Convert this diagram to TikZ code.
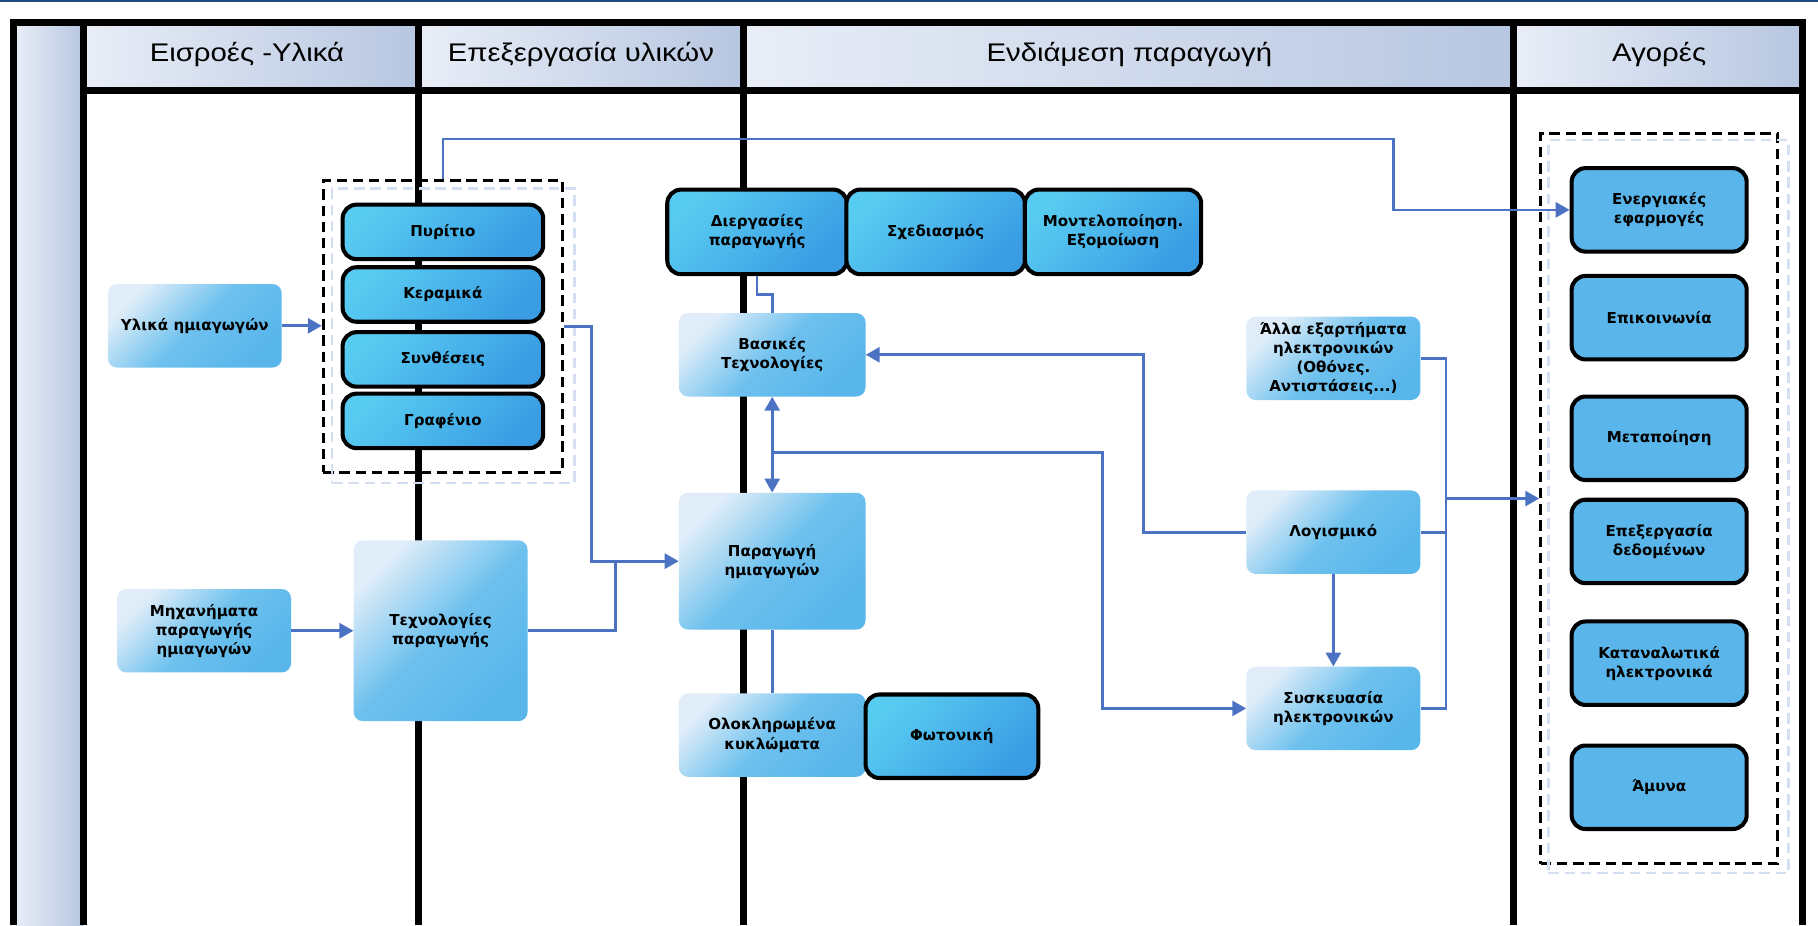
\documentclass[tikz,border=0pt]{standalone}
\usepackage{fontspec}
\setmainfont{DejaVu Sans}
\newfontfamily\headfont[FakeStretch=1.15]{Liberation Sans}
\usepackage{tikz}
\usetikzlibrary{shapes, arrows.meta, positioning, fit, calc}

\definecolor{linkblue}{RGB}{76,114,196}
\definecolor{softtop}{RGB}{224,237,249}
\definecolor{softmid}{RGB}{110,193,238}
\definecolor{softbot}{RGB}{88,182,235}
\definecolor{hardtop}{RGB}{88,203,241}
\definecolor{hardbot}{RGB}{58,157,228}
\definecolor{marketblue}{RGB}{90,182,234}
\definecolor{headlight}{RGB}{233,238,247}
\definecolor{headdark}{RGB}{183,198,225}
\definecolor{ghostblue}{RGB}{212,223,242}
\definecolor{topline}{RGB}{31,73,125}

\begin{document}
\begin{tikzpicture}[x=1pt, y=-1pt, >={Triangle[length=12pt,width=13pt]},
  lane/.style={line width=6pt},
  head/.style={font=\headfont\fontsize{22}{26}\selectfont},
  soft/.style={rounded corners=8pt, align=center, inner sep=0pt,
    minimum width=150pt, minimum height=72pt,
    top color=softtop, bottom color=softbot, middle color=softmid, shading angle=45,
    font=\bfseries\fontsize{13}{16.5}\selectfont},
  hard/.style={draw, line width=3.5pt, rounded corners=12pt, align=center, inner sep=0pt,
    top color=hardtop, bottom color=hardbot, shading angle=45,
    font=\bfseries\fontsize{13}{16.5}\selectfont},
  market/.style={draw, line width=3.5pt, rounded corners=12pt, align=center, inner sep=0pt,
    fill=marketblue, minimum width=151pt, minimum height=72pt,
    font=\bfseries\fontsize{13}{16.5}\selectfont},
  group/.style={draw, line width=2.5pt, dash pattern=on 9pt off 5pt, inner sep=0pt},
  ghost/.style={draw=ghostblue, line width=2pt, dash pattern=on 9pt off 5pt, inner sep=0pt},
  link/.style={draw=linkblue, line width=2.3pt}]

  \useasboundingbox (0,0) rectangle (1568,798);
  \draw[topline, line width=2pt] (0,1) -- (1568,1);

  \shade[left color=headlight, right color=headdark] (12,19) rectangle (72,798);
  \shade[left color=headlight, right color=headdark] (72,19) rectangle (361,78);
  \shade[left color=headlight, right color=headdark] (361,19) rectangle (641,78);
  \shade[left color=headlight, right color=headdark] (641,19) rectangle (1305,78);
  \shade[left color=headlight, right color=headdark] (1305,19) rectangle (1555,78);

  \node[head] (h1) at (213,47) {Εισροές -Υλικά};
  \node[head] (h2) at (501,47) {Επεξεργασία υλικών};
  \node[head] (h3) at (974,47) {Ενδιάμεση παραγωγή};
  \node[head] (h4) at (1431,47) {Αγορές};

  \draw[lane] (12,798) -- (12,19) -- (1555,19) -- (1555,798);
  \draw[lane] (72,78) -- (1555,78);
  \foreach \x in {72,361,641,1305}
    \draw[lane] (\x,19) -- (\x,798);

  \node[soft] (ylika) at (168,281) {Υλικά ημιαγωγών};
  \node[soft] (mixan) at (176,544) {Μηχανήματα\\παραγωγής\\ημιαγωγών};
  \node[soft, minimum height=156pt] (texnol) at (380,544) {Τεχνολογίες\\παραγωγής};

  \node[hard, minimum width=173pt, minimum height=47pt] (pyritio) at (382,200) {Πυρίτιο};
  \node[hard, minimum width=173pt, minimum height=47pt] (keramika) at (382,254) {Κεραμικά};
  \node[hard, minimum width=173pt, minimum height=47pt] (synth) at (382,310) {Συνθέσεις};
  \node[hard, minimum width=173pt, minimum height=47pt] (grafen) at (382,363) {Γραφένιο};
  \node[group, fit=(pyritio)(grafen), inner xsep=15pt, inner ysep=19pt] (matgrp) {};
  \node[ghost, fit=(matgrp), xshift=9pt, yshift=-8pt] (matghost) {};

  \node[hard, minimum width=155pt, minimum height=73pt] (dierg) at (653,200) {Διεργασίες\\παραγωγής};
  \node[hard, minimum width=154pt, minimum height=73pt] (sxed) at (807,200) {Σχεδιασμός};
  \node[hard, minimum width=152pt, minimum height=73pt] (montel) at (960,200) {Μοντελοποίηση.\\Εξομοίωση};

  \node[soft, minimum width=161pt] (vasikes) at (666,306) {Βασικές\\Τεχνολογίες};
  \node[soft, minimum width=161pt, minimum height=118pt] (paragogi) at (666,484) {Παραγωγή\\ημιαγωγών};
  \node[soft, minimum width=161pt] (oloklir) at (666,634) {Ολοκληρωμένα\\κυκλώματα};
  \node[hard, minimum width=149pt, minimum height=72pt] (fotoniki) at (821,635) {Φωτονική};

  \node[soft] (alla) at (1150,309) {Άλλα εξαρτήματα\\ηλεκτρονικών\\(Οθόνες.\\Αντιστάσεις...)};
  \node[soft] (logism) at (1150,459) {Λογισμικό};
  \node[soft] (syskev) at (1150,611) {Συσκευασία\\ηλεκτρονικών};

  \node[market] (ener) at (1431,181) {Ενεργιακές\\εφαρμογές};
  \node[market] (epik) at (1431,274) {Επικοινωνία};
  \node[market] (metap) at (1431,378) {Μεταποίηση};
  \node[market] (dedom) at (1431,467) {Επεξεργασία\\δεδομένων};
  \node[market] (katan) at (1431,572) {Καταναλωτικά\\ηλεκτρονικά};
  \node[market] (amyna) at (1431,679) {Άμυνα};
  \node[group, fit=(ener)(amyna), inner xsep=25pt, inner ysep=28pt] (mktgrp) {};
  \node[ghost, fit=(mktgrp), xshift=8pt, yshift=-7pt] (mktghost) {};

  \coordinate (split) at (666,390);
  \coordinate (bus) at (1247,430);

  \draw[link,->] (ylika) -- (ylika -| matgrp.west);
  \draw[link,->] (matgrp.north) |- (1202,120) |- (ener.west);
  \draw[link,->] (matgrp.east) -| (510,484) -- (paragogi.west);
  \draw[link] (texnol.east) -| (531,484);
  \draw[link,->] (mixan) -- (texnol);
  \draw[link] (dierg.south) |- (666,254) -- (vasikes.north);
  \draw[link,<->] (vasikes) -- (paragogi);
  \draw[link,->] (split) -| (951,611) -- (syskev.west);
  \draw[link,->] (logism.west) -| (986,306) -- (vasikes.east);
  \draw[link,->] (logism) -- (syskev);
  \draw[link] (alla.east) -| (1247,611) -- (syskev.east);
  \draw[link] (logism.east) -- (1247,459);
  \draw[link,->] (bus) -- (bus -| mktgrp.west);
  \draw[link] (paragogi) -- (oloklir);
\end{tikzpicture}
\end{document}
